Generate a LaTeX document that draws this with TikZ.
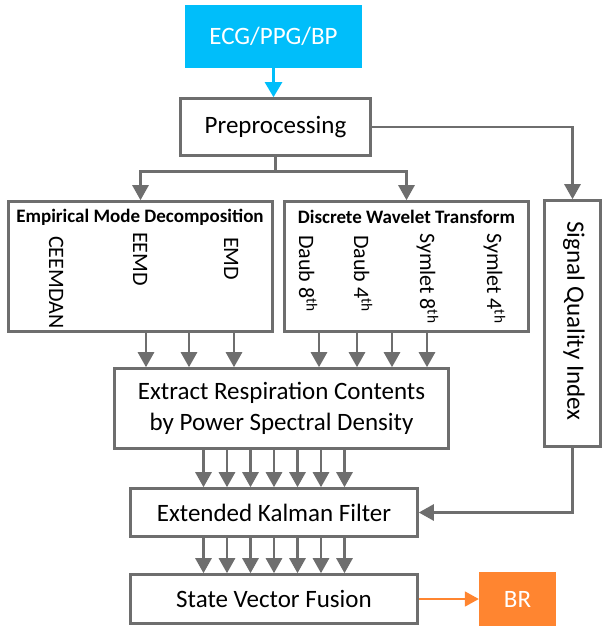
\documentclass[tikz,border=0pt]{standalone}
\usepackage{fontspec}
\setmainfont{Carlito}
\usetikzlibrary{arrows.meta,calc}
\definecolor{gline}{RGB}{110,110,110}
\definecolor{cyanbox}{RGB}{0,190,250}
\definecolor{orangebox}{RGB}{255,133,48}
\tikzset{
 box/.style={draw=gline, line width=2.6pt, fill=white, inner sep=0pt, align=center, font=\fontsize{25}{31.5}\selectfont},
 fillbox/.style={inner sep=0pt, text=white, font=\fontsize{25}{31}\selectfont},
 tipg/.tip={Triangle[width=16pt,length=15pt]},
 arr/.style={draw=gline, line width=2.7pt, -tipg},
 plain/.style={draw=gline, line width=2.7pt},
 head/.style={font=\bfseries\fontsize{19}{22}\selectfont, inner sep=0pt},
 vlab/.style={rotate=-90, anchor=base west, inner sep=0pt, font=\fontsize{22}{24}\selectfont},
}
\begin{document}
\begin{tikzpicture}[x=1pt,y=-1pt]
\fill[white] (0,0) rectangle (610,640);
\useasboundingbox (0,0) rectangle (610,640);

\node[fillbox, fill=cyanbox, minimum width=177pt, minimum height=63pt] (ecg) at (273.5,36.5) {ECG/PPG/BP};
\node[box, minimum width=190pt, minimum height=57pt] (pre) at (275.5,127) {Preprocessing};
\node[box, minimum width=264pt, minimum height=130pt] (emd) at (140.5,266.5) {};
\node[box, minimum width=244pt, minimum height=130pt] (dwt) at (406.5,266.5) {};
\node[box, minimum width=56pt, minimum height=246pt] (sqi) at (572.5,323.5) {};
\node[rotate=-90, inner sep=0pt, font=\fontsize{25}{31}\selectfont] (sqit) at (574,321) {Signal Quality Index};
\node[box, minimum width=334pt, minimum height=80pt] (ext) at (281.5,408.5) {Extract Respiration Contents\\by Power Spectral Density};
\node[box, minimum width=287pt, minimum height=48pt] (ekf) at (274,512.5) {Extended Kalman Filter};
\node[box, minimum width=287pt, minimum height=49pt] (svf) at (274,599) {State Vector Fusion};
\node[fillbox, fill=orangebox, minimum width=77pt, minimum height=54pt] (br) at (517.5,599) {BR};

\node[head] (emdh) at (140,217) {Empirical Mode Decomposition};
\node[head] (dwth) at (406.5,217) {Discrete Wavelet Transform};

\node[vlab] (l1) at (49,236) {CEEMDAN};
\node[vlab] (l2) at (133,232) {EEMD};
\node[vlab] (l3) at (224,237) {EMD};
\node[vlab] (l4) at (299,235) {Daub 8\textsuperscript{th}};
\node[vlab] (l5) at (354,235) {Daub 4\textsuperscript{th}};
\node[vlab] (l6) at (420,233) {Symlet 8\textsuperscript{th}};
\node[vlab] (l7) at (487,233) {Symlet 4\textsuperscript{th}};

\draw[draw=cyanbox, line width=2.4pt, -{Triangle[width=17pt,length=15pt]}] (ecg.south) -- (ecg.south |- pre.north);
\coordinate (j) at ($(pre.south)+(0,15)$);
\draw[plain] (pre.south) -- (j);
\draw[arr] (j) -| (emd.north);
\draw[arr] (j) -| (dwt.north);
\draw[arr] (pre.east) -| (sqi.north);
\draw[arr] (sqi.south) |- (ekf.east);
\draw[draw=orangebox, line width=1.8pt, -{Triangle[width=15pt,length=14pt]}] (svf.east) -- (br.west);

\foreach \d in {5.5,48.5,93.5} {
  \coordinate (t) at ([xshift=\d pt]emd.south);
  \draw[arr] (t) -- (t |- ext.north);
}
\foreach \d in {-87.5,-49.5,-14.5,20.5} {
  \coordinate (t) at ([xshift=\d pt]dwt.south);
  \draw[arr] (t) -- (t |- ext.north);
}
\foreach \i in {-3,...,3} {
  \coordinate (u) at ([xshift=\i*23.5pt]ekf.north);
  \draw[arr] (u |- ext.south) -- (u);
  \coordinate (v) at ([xshift=\i*23.5pt]svf.north);
  \draw[arr] (v |- ekf.south) -- (v);
}
\end{tikzpicture}
\end{document}
